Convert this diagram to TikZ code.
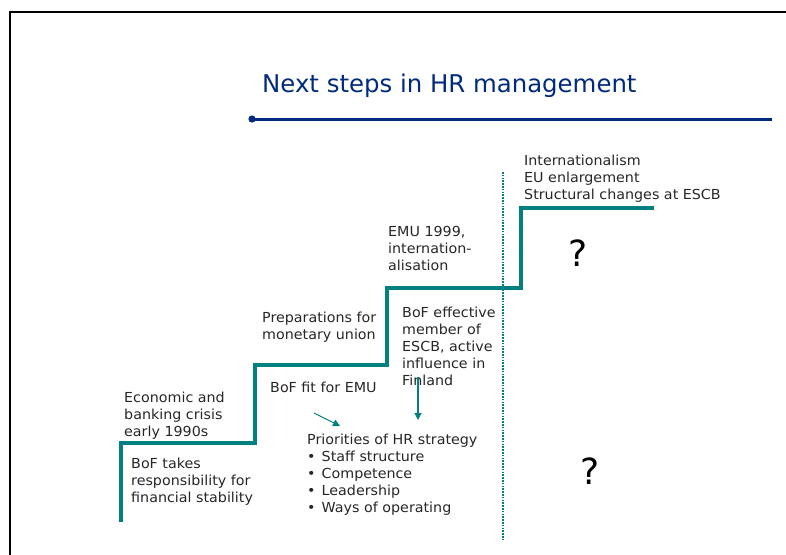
\documentclass[tikz,border=0pt]{standalone}
\usepackage{fontspec}
\setmainfont{DejaVu Sans}
\newfontfamily\widesans[FakeStretch=1.035]{DejaVu Sans}
\usetikzlibrary{arrows.meta}
\definecolor{navy}{RGB}{0,42,125}
\definecolor{stairteal}{RGB}{0,128,128}
\newcommand\bodyfont{\widesans\fontsize{13.8}{17}\selectfont}
\newcommand\bul{\makebox[14.5pt][l]{•}}
\tikzset{
  txt/.style={anchor=north west, inner sep=0pt, align=left, font=\bodyfont, text=black!85},
  stair/.style={draw=stairteal, line width=3.4pt, line join=miter},
  divider/.style={draw=stairteal, line width=1.8pt, dash pattern=on 1.6pt off 1.2pt},
  hint/.style={draw=stairteal, line width=1.1pt, -{Triangle[length=7pt,width=7pt]}},
  query/.style={font=\fontsize{36}{40}\selectfont, inner sep=0pt}
}
\begin{document}
\begin{tikzpicture}[x=1pt, y=-1pt]
\useasboundingbox (0,0) rectangle (786,554);
% slide frame
\draw[line width=2pt, black] (10,12) rectangle (900,700);
% heading and rule
\node[anchor=base west, inner sep=0pt, text=navy, font=\fontsize{24.4}{28}\selectfont] (title) at (262,92.5) {Next steps in HR management};
\coordinate (ruleA) at (252,119);
\coordinate (ruleB) at (772,119);
\draw[navy, line width=3pt] (ruleA) -- (ruleB);
\fill[navy] (ruleA) circle (3.6pt);
% staircase
\coordinate (s0) at (121,522);
\coordinate (s1) at (121,443);
\coordinate (s2) at (255,443);
\coordinate (s3) at (255,365);
\coordinate (s4) at (387,365);
\coordinate (s5) at (387,288);
\coordinate (s6) at (521,288);
\coordinate (s7) at (521,208);
\coordinate (s8) at (654,208);
\draw[stair] (s0) -- (s1) -- (s2) -- (s3) -- (s4) -- (s5) -- (s6) -- (s7) -- (s8);
% present / future divider
\coordinate (dTop) at (503,172);
\coordinate (dBot) at (503,540);
\draw[divider] (dTop) -- (dBot);
% labels above the steps
\node[txt] (eco) at (124,391.5) {Economic and\\banking crisis\\early 1990s};
\node[txt] (prep) at (262,311.5) {Preparations for\\monetary union};
\node[txt] (emu) at (388,226.5) {EMU 1999,\\internation-\\alisation};
\node[txt] (intl) at (524,154.5) {Internationalism\\EU enlargement\\Structural changes at ESCB};
% labels below the steps
\node[txt] (stab) at (131,457.5) {BoF takes\\responsibility for\\financial stability};
\node[txt] (fit) at (270,381.5) {BoF fit for EMU};
\node[txt] (eff) at (402,306.5) {BoF effective\\member of\\ESCB, active\\influence in\\Finland};
\node[txt] (prio) at (307,433.5) {Priorities of HR strategy\\\bul Staff structure\\\bul Competence\\\bul Leadership\\\bul Ways of operating};
% open questions
\node[query] (q1) at (578,253) {?};
\node[query] (q2) at (590,471) {?};
% pointers to the HR priorities
\coordinate (a1s) at (314,413);
\coordinate (a1e) at (340,426);
\coordinate (a2s) at (418,377);
\coordinate (a2e) at (418,420);
\draw[hint] (a1s) -- (a1e);
\draw[hint] (a2s) -- (a2e);
\end{tikzpicture}
\end{document}
